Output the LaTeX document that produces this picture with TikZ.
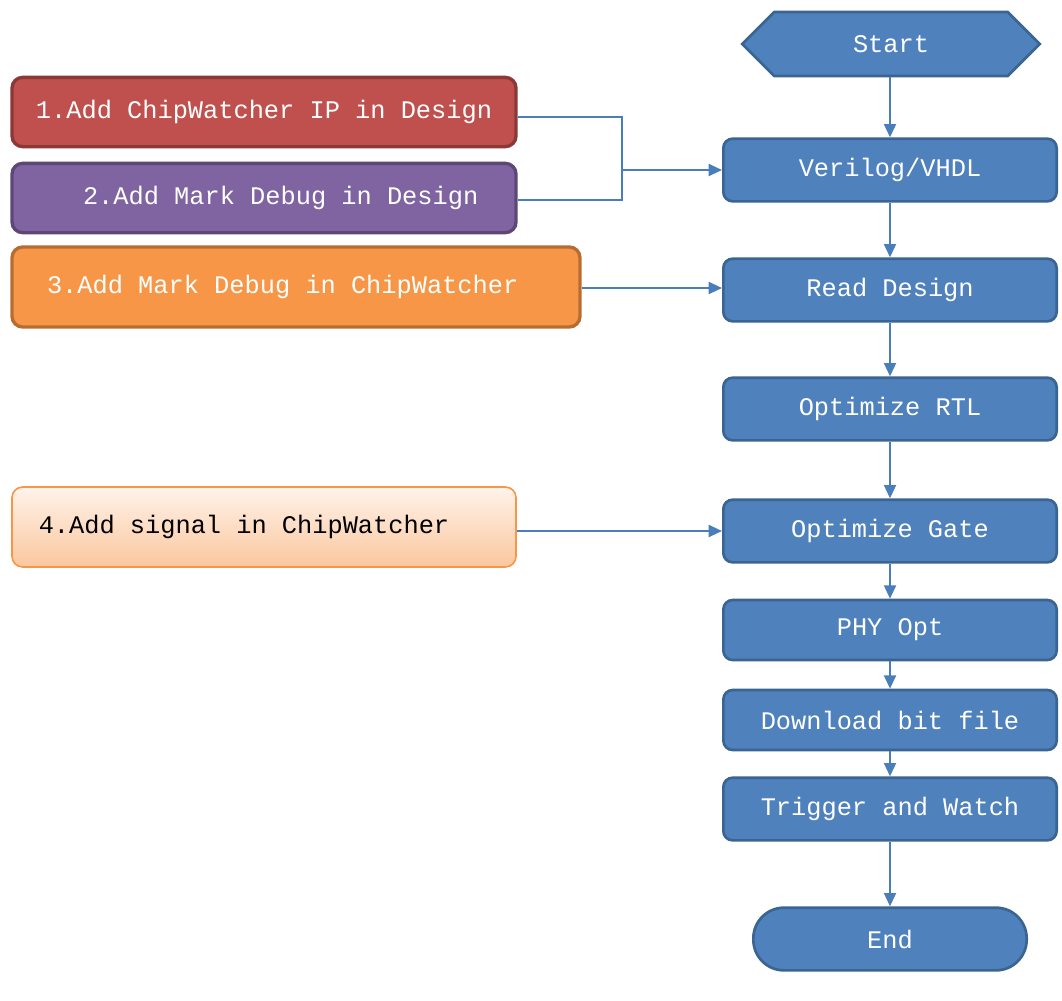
\documentclass[tikz,border=0pt]{standalone}
\usepackage{fontspec}
\setmainfont{Liberation Mono}
\usetikzlibrary{shapes.symbols,arrows.meta}
\definecolor{bfill}{HTML}{4F81BD}
\definecolor{bline}{HTML}{3A6491}
\definecolor{aline}{HTML}{4A7EBB}
\definecolor{rfill}{HTML}{C0504D}
\definecolor{rline}{HTML}{8C3836}
\definecolor{pfill}{HTML}{8064A2}
\definecolor{pline}{HTML}{5C4776}
\definecolor{ofill}{HTML}{F79646}
\definecolor{oline}{HTML}{B66D31}
\definecolor{ltop}{HTML}{FFF3EA}
\definecolor{lbot}{HTML}{FBC79E}
\begin{document}
\begin{tikzpicture}[x=0.75pt,y=-0.75pt,
  txt/.style={text=white,font=\fontsize{19}{22}\selectfont},
  fstep/.style={txt,draw=bline,line width=2pt,fill=bfill,rounded corners=7pt,minimum width=250pt,minimum height=47pt,inner sep=0pt},
  side/.style={txt,line width=2.5pt,rounded corners=8pt,inner sep=0pt,minimum height=52pt},
  arr/.style={draw=aline,line width=1.5pt,-{Triangle[length=10pt,width=9pt]}},
  ln/.style={draw=aline,line width=1.5pt}]
\useasboundingbox (0,0) rectangle (1062,1000);
\node[txt,signal,signal to=west and east,signal pointer angle=90,draw=bline,line width=2pt,fill=bfill,minimum width=223pt,minimum height=48pt,inner sep=0pt] (start) at (891,44) {Start};
\node[fstep] (verilog) at (890,170) {Verilog/VHDL};
\node[fstep] (read) at (890,290) {Read Design};
\node[fstep] (rtl) at (890,409) {Optimize RTL};
\node[fstep] (gate) at (890,531) {Optimize Gate};
\node[fstep,minimum height=45pt] (phy) at (890,630) {PHY Opt};
\node[fstep,minimum height=45pt] (dl) at (890,720) {Download bit file};
\node[fstep] (trig) at (890,809) {Trigger and Watch};
\node[txt,draw=bline,line width=2pt,fill=bfill,rounded corners=23pt,minimum width=205pt,minimum height=47pt,inner sep=0pt] (end) at (890,939) {End};
\draw[arr] (start.south -| verilog) -- (verilog);
\draw[arr] (verilog) -- (read);
\draw[arr] (read) -- (rtl);
\draw[arr] (rtl) -- (gate);
\draw[arr] (gate) -- (phy);
\draw[arr] (phy) -- (dl);
\draw[arr] (dl) -- (trig);
\draw[arr] (trig) -- (end);
\node[side,draw=rline,fill=rfill,minimum width=378pt] (s1) at (264,112) {1.Add ChipWatcher IP in Design};
\node[side,draw=pline,fill=pfill,minimum width=378pt] (s2) at (264,198) {\hspace*{25pt}2.Add Mark Debug in Design};
\node[side,draw=oline,fill=ofill,minimum width=426pt,minimum height=60pt] (s3) at (296,287) {3.Add Mark Debug in ChipWatcher\hspace*{20pt}};
\node[side,text=black,draw=ofill,line width=1.2pt,top color=ltop,bottom color=lbot,minimum width=378pt,minimum height=60pt] (s4) at (264,527) {4.Add signal in ChipWatcher\hspace*{30pt}};
\coordinate (j) at (622,170);
\draw[ln] (s1.east |- 0,117) -- (622,117) |- (s2.east |- 0,200);
\draw[arr] (j) -- (verilog.west);
\draw[arr] (s3.east |- 0,288) -- (read.west |- 0,288);
\draw[arr] (s4.east |- 0,531) -- (gate.west);
\end{tikzpicture}
\end{document}
